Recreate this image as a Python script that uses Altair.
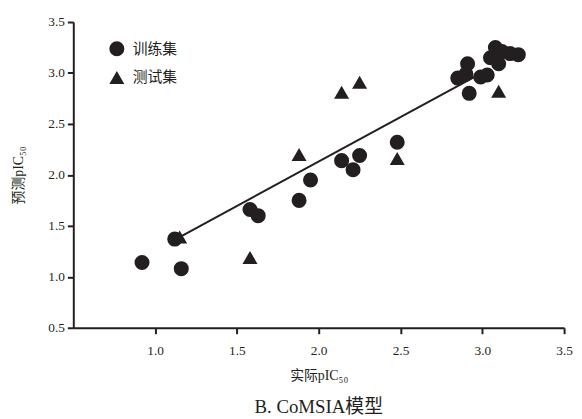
import altair as alt
import pandas as pd

train_x = [0.92, 1.12, 1.16, 1.58, 1.63, 1.88, 1.95, 2.14, 2.21, 2.25, 2.48,
           2.85, 2.90, 2.91, 2.92, 2.99, 3.03, 3.05, 3.08, 3.10, 3.12, 3.17, 3.22]
train_y = [1.14, 1.37, 1.08, 1.66, 1.60, 1.75, 1.95, 2.14, 2.05, 2.19, 2.32,
           2.95, 2.99, 3.09, 2.80, 2.96, 2.98, 3.15, 3.25, 3.09, 3.21, 3.19, 3.18]
test_x = [1.15, 1.58, 1.88, 2.14, 2.25, 2.48, 3.10]
test_y = [1.39, 1.19, 2.20, 2.81, 2.91, 2.16, 2.82]
set_names = ["训练集", "测试集"]
fit_x = [1.15, 2.95]
fit_y = [1.39, 2.96]
x_ticks = [1.0, 1.5, 2.0, 2.5, 3.0, 3.5]
y_ticks = [0.5, 1.0, 1.5, 2.0, 2.5, 3.0, 3.5]

FONT = "Liberation Serif, Times New Roman, Noto Sans CJK SC"
INK = "#231f20"

pts = pd.DataFrame({
    "x": train_x + test_x,
    "y": train_y + test_y,
    "set": [set_names[0]] * len(train_x) + [set_names[1]] * len(test_x),
})
line_df = pd.DataFrame({"x": [fit_x[0]], "y": [fit_y[0]], "x2": [fit_x[1]], "y2": [fit_y[1]]})

xscale = alt.Scale(domain=[0.5, 3.5], nice=False, zero=False)
yscale = alt.Scale(domain=[0.5, 3.5], nice=False, zero=False)

xaxis = alt.Axis(values=x_ticks, format=".1f", title="实际pIC₅₀", grid=False,
                 domainColor=INK, domainWidth=2, tickColor=INK, tickWidth=2, tickSize=6,
                 labelFont=FONT, labelFontSize=13.5, labelColor=INK, labelPadding=10,
                 labelFlush=False, labelOverlap=False,
                 titleFont=FONT, titleFontSize=14, titleFontWeight="normal", titleColor=INK,
                 titlePadding=12)
yaxis = alt.Axis(values=y_ticks, format=".1f", title="预测pIC₅₀", grid=False,
                 domainColor=INK, domainWidth=2, tickColor=INK, tickWidth=2, tickSize=6,
                 labelFont=FONT, labelFontSize=13.5, labelColor=INK, labelPadding=3,
                 labelFlush=False, labelOverlap=False,
                 titleFont=FONT, titleFontSize=14, titleFontWeight="normal", titleColor=INK,
                 titlePadding=22)

line = alt.Chart(line_df).mark_rule(color=INK, strokeWidth=2).encode(
    x=alt.X("x:Q", scale=xscale, axis=xaxis),
    y=alt.Y("y:Q", scale=yscale, axis=yaxis),
    x2="x2:Q",
    y2="y2:Q",
)

points = alt.Chart(pts).mark_point(filled=True, size=230, opacity=1, color=INK).encode(
    x=alt.X("x:Q", scale=xscale, axis=xaxis),
    y=alt.Y("y:Q", scale=yscale, axis=yaxis),
    shape=alt.Shape("set:N",
                    scale=alt.Scale(domain=set_names, range=["circle", "triangle-up"]),
                    legend=alt.Legend(title=None, orient="none", legendX=36, legendY=19,
                                      symbolSize=230, symbolFillColor=INK, symbolStrokeWidth=0,
                                      labelFont=FONT, labelFontSize=15, labelColor=INK,
                                      rowPadding=13, labelOffset=8)),
)

chart = alt.layer(line, points).properties(
    width=496, height=309,
    autosize=alt.AutoSizeParams(type="none"),
    padding={"left": 66, "top": 12, "right": 10, "bottom": 88},
    title=alt.TitleParams("B. CoMSIA模型", orient="bottom", font=FONT, fontSize=19,
                          fontWeight="normal", color=INK, offset=16),
).configure_view(stroke=None)

chart.save("out.html", embed_options={"renderer": "svg", "actions": False})
